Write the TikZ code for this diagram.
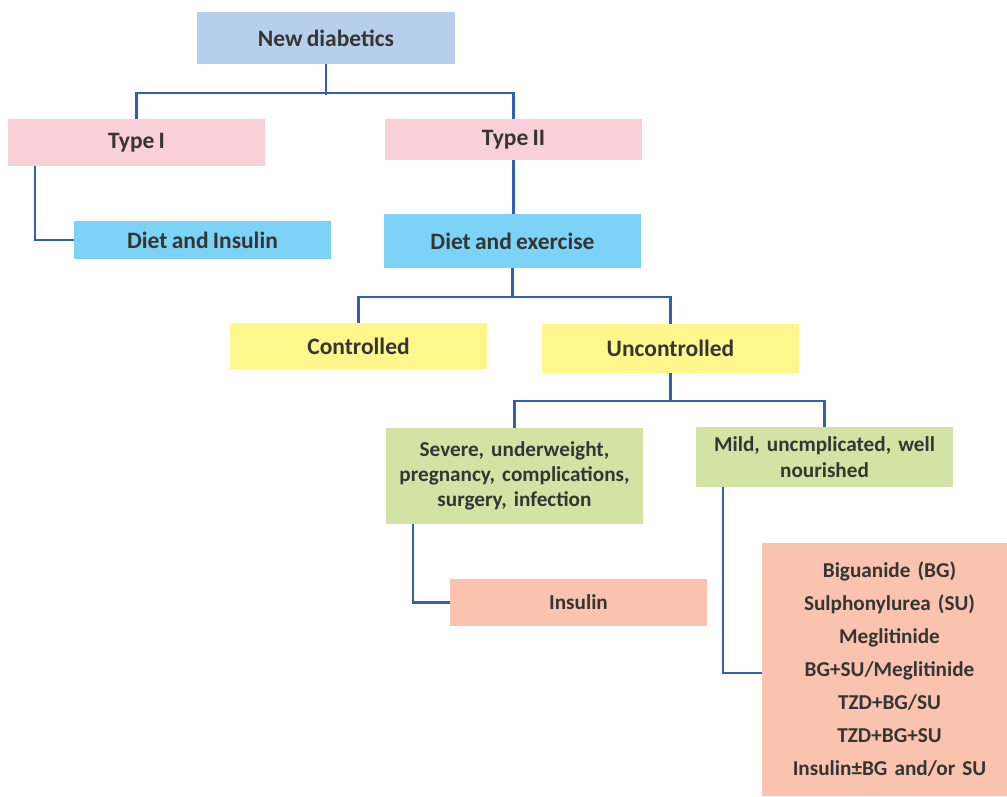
\documentclass[tikz,border=0pt]{standalone}
\usepackage{fontspec}
\setmainfont[WordSpace=0.8]{Carlito}
\usetikzlibrary{calc}
\definecolor{cblue}{HTML}{B8CFEC}
\definecolor{cpink}{HTML}{F9CFD8}
\definecolor{ccyan}{HTML}{7DD3F5}
\definecolor{cyel}{HTML}{FFF78C}
\definecolor{cgreen}{HTML}{D2E3A3}
\definecolor{csalm}{HTML}{F9C3AE}
\definecolor{cline}{HTML}{2E62AE}
\definecolor{ctext}{HTML}{353535}
\begin{document}
\begin{tikzpicture}[x=1pt,y=-1pt,
  box/.style={inner sep=0pt, minimum width=257pt, align=center, text=ctext,
    font=\fontsize{23.5}{28}\selectfont\bfseries},
  small/.style={font=\fontsize{21.2}{25}\selectfont\bfseries},
  conn/.style={draw=cline, line width=2.6pt}]
\useasboundingbox (0,0) rectangle (1007,796);
\node[box, fill=cblue, minimum width=258pt, minimum height=52pt] (nd) at (326,38) {New diabetics};
\node[box, fill=cpink, minimum height=47pt] (t1) at (136.5,142.5) {Type I};
\node[box, fill=cpink, minimum height=41pt] (t2) at (513.5,139.5) {Type II};
\node[box, fill=ccyan, minimum height=38pt] (di) at (202.5,240) {Diet and Insulin};
\node[box, fill=ccyan, minimum height=54pt] (de) at (512.5,241) {Diet and exercise};
\node[box, fill=cyel, minimum height=46pt] (ctl) at (358.5,346) {Controlled};
\node[box, fill=cyel, minimum height=49pt] (unc) at (670.5,348.5) {Uncontrolled};
\node[box, small, fill=cgreen, minimum height=96pt, text width=257pt] (sev) at (514.5,476)
  {Severe, underweight,\\pregnancy, complications,\\surgery, infection};
\node[box, small, fill=cgreen, minimum height=60pt, text width=257pt,
  font=\fontsize{21.2}{26}\selectfont\bfseries] (mild) at (824.5,457)
  {Mild, uncmplicated, well\\nourished};
\node[box, small, fill=csalm, minimum height=47pt] (ins) at (578.5,602.5) {Insulin};
\node[box, fill=csalm, minimum width=245pt, minimum height=253pt, text width=245pt,
  font=\fontsize{21.2}{33}\selectfont\bfseries] (lst) at (884.5,669.5)
  {\hspace*{10pt}Biguanide (BG)\\\hspace*{10pt}Sulphonylurea (SU)\\\hspace*{10pt}Meglitinide\\\hspace*{10pt}BG+SU/Meglitinide\\\hspace*{10pt}TZD+BG/SU\\\hspace*{10pt}TZD+BG+SU\\\hspace*{10pt}Insulin±BG and/or SU};
% connectors
\draw[conn] (nd.south) -- ++(0,31);
\draw[conn] (t1.north) -- ++(0,-26) -| (t2.north);
\draw[conn] ($(t1.south west)+(27,0)$) |- (di.west);
\draw[conn] (t2.south) -- (t2.south |- de.north);
\draw[conn] (de.south) -- ++(0,29);
\draw[conn] (ctl.north) -- ++(0,-26) -| (unc.north);
\draw[conn] (unc.south) -- ++(0,28);
\draw[conn] (sev.north) -- ++(0,-27) -| (mild.north);
\draw[conn] ($(sev.south west)+(27,0)$) |- (ins.west);
\draw[conn] ($(mild.south west)+(27,0)$) |- ($(lst.west)+(0,3.5)$);
\end{tikzpicture}
\end{document}
